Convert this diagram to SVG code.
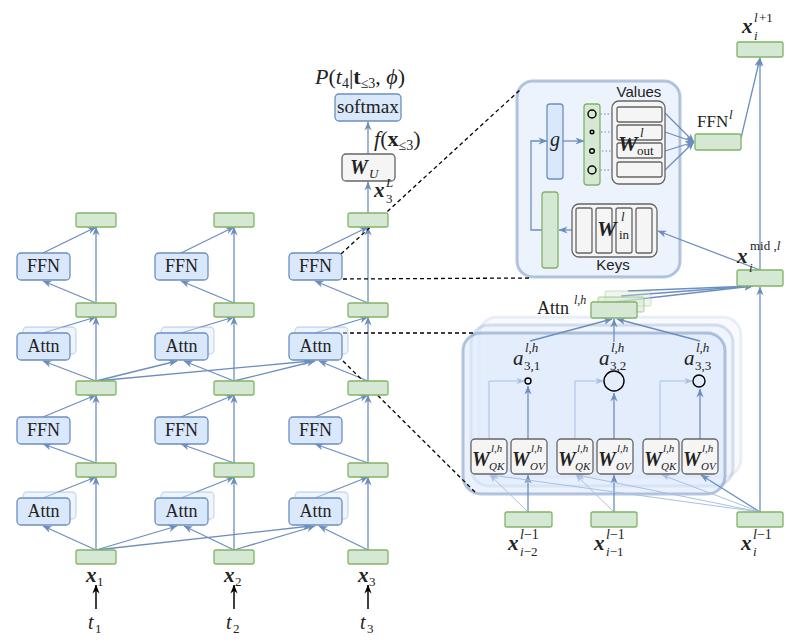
<svg xmlns="http://www.w3.org/2000/svg" width="800" height="641" viewBox="0 0 800 641">
<defs>
<marker id="a" viewBox="0 0 10 10" refX="9.5" refY="5" markerWidth="9" markerHeight="9" markerUnits="userSpaceOnUse" orient="auto"><path d="M0,1 L10,5 L0,9 L3,5 z" fill="#6c8ebf"/></marker>
<marker id="al" viewBox="0 0 10 10" refX="9.5" refY="5" markerWidth="8" markerHeight="8" markerUnits="userSpaceOnUse" orient="auto"><path d="M0,1 L10,5 L0,9 L3,5 z" fill="#a9c0e3"/></marker>
<marker id="as" viewBox="0 0 10 10" refX="9.5" refY="5" markerWidth="5" markerHeight="5" markerUnits="userSpaceOnUse" orient="auto"><path d="M0,1 L10,5 L0,9 L3,5 z" fill="#6c8ebf"/></marker>
<marker id="ak" viewBox="0 0 10 10" refX="9.5" refY="5" markerWidth="9" markerHeight="9" markerUnits="userSpaceOnUse" orient="auto"><path d="M0,1 L10,5 L0,9 L3,5 z" fill="#000"/></marker>
<style>
.g{fill:#d5e8d4;stroke:#82b366;stroke-width:1.3}
.b{fill:#dae8fc;stroke:#6c8ebf;stroke-width:1.3}
.bs{fill:#dae8fc;fill-opacity:.45;stroke:#6c8ebf;stroke-opacity:.3;stroke-width:1.3}
.gs{fill:#d5e8d4;fill-opacity:.6;stroke:#82b366;stroke-opacity:.45;stroke-width:1.3}
.w{fill:#f5f5f5;stroke:#666;stroke-width:1.3}
.e{stroke:#6c8ebf;stroke-width:1.3;fill:none;marker-end:url(#a)}
.el{stroke:#a9c0e3;stroke-width:1;fill:none;marker-end:url(#al)}
.ed{stroke:#6c8ebf;stroke-width:1.2;stroke-dasharray:1.5 2;fill:none;marker-end:url(#as)}
.ek{stroke:#000;stroke-width:1.5;fill:none;marker-end:url(#ak)}
.d{stroke:#000;stroke-width:1.3;stroke-dasharray:4 3;fill:none}
.c{fill:none;stroke:#000;stroke-width:1.4}
text{fill:#222}
.s{font-family:"Liberation Serif","DejaVu Serif",serif}
.ss{font-family:"Liberation Sans",Arial,sans-serif}
.i{font-style:italic}
.bi{font-style:italic;font-weight:bold}
.m{text-anchor:middle}
</style>
</defs>

<!-- zoom boxes (background) -->
<g id="ffn-zoom">
<rect x="517" y="81" width="163" height="196" rx="16" fill="#dae8fc" fill-opacity=".5" stroke="#6c8ebf" stroke-opacity=".5" stroke-width="3"/>
<text class="ss m" x="639" y="97" font-size="15">Values</text>
<text class="ss m" x="613" y="270" font-size="15">Keys</text>
</g>
<g id="attn-zoom">
<rect x="479" y="317" width="262" height="160" rx="18" fill="#dae8fc" fill-opacity=".2" stroke="#6c8ebf" stroke-opacity=".12" stroke-width="3"/>
<rect x="471" y="325" width="262" height="161" rx="18" fill="#dae8fc" fill-opacity=".3" stroke="#6c8ebf" stroke-opacity=".25" stroke-width="3"/>
<rect x="463" y="333" width="262" height="161" rx="18" fill="#dae8fc" fill-opacity=".55" stroke="#6c8ebf" stroke-opacity=".5" stroke-width="3"/>
</g>

<!-- connectors -->
<g id="connectors">
<!-- column 1 -->
<path class="e" d="M96,550 V477"/><path class="e" d="M96,463 V395"/><path class="e" d="M96,381 V317"/><path class="e" d="M96,303 V227"/>
<path class="e" d="M43,498 L96,477"/><path class="e" d="M96,463 L43,444"/><path class="e" d="M43,417 L96,395"/>
<path class="e" d="M43,333 L96,317"/><path class="e" d="M96,303 L43,281"/><path class="e" d="M43,253 L96,227"/>
<!-- column 2 -->
<path class="e" d="M234,550 V477"/><path class="e" d="M234,463 V395"/><path class="e" d="M234,381 V317"/><path class="e" d="M234,303 V227"/>
<path class="e" d="M181,498 L234,477"/><path class="e" d="M234,463 L181,444"/><path class="e" d="M181,417 L234,395"/>
<path class="e" d="M181,333 L234,317"/><path class="e" d="M234,303 L181,281"/><path class="e" d="M181,253 L234,227"/>
<!-- column 3 -->
<path class="e" d="M368,550 V477"/><path class="e" d="M368,463 V395"/><path class="e" d="M368,381 V317"/><path class="e" d="M368,303 V227"/>
<path class="e" d="M315,498 L368,477"/><path class="e" d="M368,463 L315,444"/><path class="e" d="M315,417 L368,395"/>
<path class="e" d="M315,333 L368,317"/><path class="e" d="M368,303 L315,281"/><path class="e" d="M315,253 L368,227"/>
<!-- causal attention, layer 1 -->
<path class="e" d="M96,550 L43,526"/><path class="e" d="M96,550 L177,526"/><path class="e" d="M96,550 L311,526"/>
<path class="e" d="M234,550 L184,526"/><path class="e" d="M234,550 L315,526"/><path class="e" d="M368,550 L319,526"/>
<!-- causal attention, layer 2 -->
<path class="e" d="M96,381 L43,361"/><path class="e" d="M96,381 L177,361"/><path class="e" d="M96,381 L311,361"/>
<path class="e" d="M234,381 L184,361"/><path class="e" d="M234,381 L315,361"/><path class="e" d="M368,381 L319,361"/>
<!-- head -->
<path class="e" d="M368,213 V182"/><path class="e" d="M368,154 V122"/>
<!-- tokens -->
<path class="ek" d="M96,609 V585"/><path class="ek" d="M234,609 V585"/><path class="ek" d="M368,609 V585"/>
<!-- dashed zoom lines -->
<path class="d" d="M341,254 L521,89"/><path class="d" d="M343,279 L531,278"/>
<path class="d" d="M343,333 L476,333"/><path class="d" d="M343,361 L476,493"/>
<!-- FFN zoom internals -->
<path class="e" d="M563,141 H584"/>
<path class="e" d="M542,230 H531 V141 H547"/>
<path class="e" d="M572,230 H559"/>
<path class="ed" d="M597,114 H617"/><path class="ed" d="M594,132 H617"/><path class="ed" d="M595,151 H617"/><path class="ed" d="M597,170 H617"/>
<path class="e" d="M665,113 L694,142"/><path class="e" d="M665,132 L694,142"/><path class="e" d="M665,151 L694,142"/><path class="e" d="M665,170 L694,142"/>
<!-- right column -->
<path class="e" d="M741,138 L760,58"/>
<path class="e" d="M760,270 V58"/>
<path class="e" d="M760,270 L658,231"/>
<path class="e" d="M760,512 V287"/>
<path class="e" d="M614,302 L753,286"/><path class="e" d="M621,296 L753,286"/><path class="e" d="M628,291 L753,286"/>
<!-- attention zoom internals -->
<path class="e" d="M530,341 L612,319"/><path class="e" d="M614,342 V319"/><path class="e" d="M700,341 L617,319"/>
<path class="e" d="M528,439 V386"/><path class="e" d="M614,439 V393"/><path class="e" d="M700,439 V389"/>
<path class="el" d="M489,439 V381 H524"/><path class="el" d="M575,439 V381 H603"/><path class="el" d="M660,439 V381 H692"/>
<path class="e" d="M528,512 V475"/><path class="e" d="M614,512 V475"/><path class="e" d="M760,512 L701,475"/>
<path class="el" d="M528,512 L490,475"/><path class="el" d="M614,512 L576,475"/>
<path class="el" d="M760,512 L491,475"/><path class="el" d="M760,512 L577,475"/><path class="el" d="M760,512 L662,475"/>
</g>

<!-- left: column 1 -->
<g id="c1-x0"><rect class="g" x="76" y="550" width="40" height="14" rx="2"/></g>
<g id="c1-attn1"><rect class="bs" x="23" y="492" width="53" height="27" rx="4"/><rect class="b" x="17" y="498" width="53" height="27" rx="4"/><text class="s m" x="43.5" y="517" font-size="18">Attn</text></g>
<g id="c1-x1"><rect class="g" x="76" y="463" width="40" height="14" rx="2"/></g>
<g id="c1-ffn1"><rect class="b" x="17" y="417" width="53" height="27" rx="4"/><text class="s m" x="43.5" y="436" font-size="18">FFN</text></g>
<g id="c1-x2"><rect class="g" x="76" y="381" width="40" height="14" rx="2"/></g>
<g id="c1-attn2"><rect class="bs" x="23" y="327" width="53" height="27" rx="4"/><rect class="b" x="17" y="333" width="53" height="27" rx="4"/><text class="s m" x="43.5" y="352" font-size="18">Attn</text></g>
<g id="c1-x3"><rect class="g" x="76" y="303" width="40" height="14" rx="2"/></g>
<g id="c1-ffn2"><rect class="b" x="17" y="253" width="53" height="27" rx="4"/><text class="s m" x="43.5" y="272" font-size="18">FFN</text></g>
<g id="c1-x4"><rect class="g" x="76" y="213" width="40" height="14" rx="2"/></g>
<g id="c1-labels"><text class="s bi" x="86" y="582" font-size="21">x</text><text class="s" x="97" y="586" font-size="13">1</text><text class="s i" x="88" y="629" font-size="20">t</text><text class="s" x="95" y="633" font-size="13">1</text></g>

<!-- column 2 -->
<g id="c2-x0"><rect class="g" x="214" y="550" width="40" height="14" rx="2"/></g>
<g id="c2-attn1"><rect class="bs" x="161" y="492" width="53" height="27" rx="4"/><rect class="b" x="155" y="498" width="53" height="27" rx="4"/><text class="s m" x="181.5" y="517" font-size="18">Attn</text></g>
<g id="c2-x1"><rect class="g" x="214" y="463" width="40" height="14" rx="2"/></g>
<g id="c2-ffn1"><rect class="b" x="155" y="417" width="53" height="27" rx="4"/><text class="s m" x="181.5" y="436" font-size="18">FFN</text></g>
<g id="c2-x2"><rect class="g" x="214" y="381" width="40" height="14" rx="2"/></g>
<g id="c2-attn2"><rect class="bs" x="161" y="327" width="53" height="27" rx="4"/><rect class="b" x="155" y="333" width="53" height="27" rx="4"/><text class="s m" x="181.5" y="352" font-size="18">Attn</text></g>
<g id="c2-x3"><rect class="g" x="214" y="303" width="40" height="14" rx="2"/></g>
<g id="c2-ffn2"><rect class="b" x="155" y="253" width="53" height="27" rx="4"/><text class="s m" x="181.5" y="272" font-size="18">FFN</text></g>
<g id="c2-x4"><rect class="g" x="214" y="213" width="40" height="14" rx="2"/></g>
<g id="c2-labels"><text class="s bi" x="224" y="582" font-size="21">x</text><text class="s" x="235" y="586" font-size="13">2</text><text class="s i" x="226" y="629" font-size="20">t</text><text class="s" x="233" y="633" font-size="13">2</text></g>

<!-- column 3 -->
<g id="c3-x0"><rect class="g" x="348" y="550" width="40" height="14" rx="2"/></g>
<g id="c3-attn1"><rect class="bs" x="295" y="492" width="53" height="27" rx="4"/><rect class="b" x="289" y="498" width="53" height="27" rx="4"/><text class="s m" x="315.5" y="517" font-size="18">Attn</text></g>
<g id="c3-x1"><rect class="g" x="348" y="463" width="40" height="14" rx="2"/></g>
<g id="c3-ffn1"><rect class="b" x="289" y="417" width="53" height="27" rx="4"/><text class="s m" x="315.5" y="436" font-size="18">FFN</text></g>
<g id="c3-x2"><rect class="g" x="348" y="381" width="40" height="14" rx="2"/></g>
<g id="c3-attn2"><rect class="bs" x="295" y="327" width="53" height="27" rx="4"/><rect class="b" x="289" y="333" width="53" height="27" rx="4"/><text class="s m" x="315.5" y="352" font-size="18">Attn</text></g>
<g id="c3-x3"><rect class="g" x="348" y="303" width="40" height="14" rx="2"/></g>
<g id="c3-ffn2"><rect class="b" x="289" y="253" width="53" height="27" rx="4"/><text class="s m" x="315.5" y="272" font-size="18">FFN</text></g>
<g id="c3-x4"><rect class="g" x="348" y="213" width="40" height="14" rx="2"/></g>
<g id="c3-labels"><text class="s bi" x="358" y="582" font-size="21">x</text><text class="s" x="369" y="586" font-size="13">3</text><text class="s i" x="360" y="629" font-size="20">t</text><text class="s" x="367" y="633" font-size="13">3</text></g>

<!-- head -->
<g id="wu"><rect class="w" x="342" y="154" width="53" height="27" rx="4"/><text class="s bi" x="350" y="174" font-size="20">W</text><text class="s i" x="369" y="178" font-size="13">U</text></g>
<g id="softmax"><rect class="b" x="335" y="94" width="66" height="27" rx="4"/><text class="s m" x="368" y="113" font-size="19" textLength="62" lengthAdjust="spacingAndGlyphs">softmax</text></g>
<g id="head-labels">
<text class="s" x="315" y="84" font-size="22"><tspan class="i">P</tspan>(<tspan class="i">t</tspan><tspan font-size="14" dy="4">4</tspan><tspan dy="-4">|</tspan><tspan font-weight="bold">t</tspan><tspan font-size="14" dy="4">≤3</tspan><tspan dy="-4">, </tspan><tspan class="i">ϕ</tspan>)</text>
<text class="s" x="374" y="146" font-size="22"><tspan class="i">f</tspan>(<tspan font-weight="bold">x</tspan><tspan font-size="14" dy="4">≤3</tspan><tspan dy="-4">)</tspan></text>
<text class="s bi" x="374" y="197" font-size="21">x</text><text class="s i" x="386" y="187" font-size="13">L</text><text class="s" x="386" y="203" font-size="13">3</text>
</g>

<!-- FFN zoom internals -->
<g id="g-gate"><rect class="b" x="547" y="104" width="16" height="75" rx="3"/><text class="s i m" x="555" y="146" font-size="20">g</text></g>
<g id="activations"><rect class="g" x="584" y="104" width="16" height="81" rx="3"/>
<circle class="c" cx="592" cy="114" r="4"/><circle class="c" cx="592" cy="132" r="1.8"/><circle class="c" cx="592" cy="151" r="2.3"/><circle class="c" cx="592" cy="170" r="4"/></g>
<g id="w-out"><rect class="w" x="612" y="101" width="53" height="83" rx="7"/>
<rect class="w" x="617" y="107" width="45" height="15" rx="2"/><rect class="w" x="617" y="125" width="45" height="15" rx="2"/><rect class="w" x="617" y="143" width="45" height="15" rx="2"/><rect class="w" x="617" y="162" width="45" height="15" rx="2"/>
<text class="s bi" x="618" y="151" font-size="22">W</text><text class="s i" x="640" y="137" font-size="13">l</text><text class="s" x="637" y="155" font-size="13">out</text></g>
<g id="key-act"><rect class="g" x="542" y="192" width="16" height="76" rx="3"/></g>
<g id="w-in"><rect class="w" x="572" y="204" width="85" height="53" rx="7"/>
<rect class="w" x="576" y="208" width="16" height="45" rx="2"/><rect class="w" x="596" y="208" width="16" height="45" rx="2"/><rect class="w" x="616" y="208" width="16" height="45" rx="2"/><rect class="w" x="636" y="208" width="16" height="45" rx="2"/>
<text class="s bi" x="597" y="236" font-size="22">W</text><text class="s i" x="621" y="221" font-size="13">l</text><text class="s" x="619" y="239" font-size="13">in</text></g>

<!-- right column -->
<g id="x-next"><rect class="g" x="737" y="42" width="46" height="15" rx="2"/><text class="s bi" x="742" y="33" font-size="21">x</text><text class="s i" x="754" y="22" font-size="13">l</text><text class="s" x="759" y="22" font-size="13">+1</text><text class="s i" x="754" y="40" font-size="13">i</text></g>
<g id="ffn-l"><rect class="g" x="695" y="134" width="46" height="16" rx="2"/><text class="s" x="697" y="127" font-size="17">FFN</text><text class="s i" x="729" y="119" font-size="13">l</text></g>
<g id="x-mid"><rect class="g" x="737" y="270" width="46" height="16" rx="2"/><text class="s bi" x="737" y="263" font-size="21">x</text><text class="s i" x="749" y="272" font-size="13">i</text><text class="s" x="750" y="250" font-size="13">mid ,<tspan class="i">l</tspan></text></g>
<g id="attn-out"><rect class="gs" x="605" y="291" width="46" height="15" rx="2" opacity=".6"/><rect class="gs" x="598" y="297" width="46" height="15" rx="2"/><rect class="g" x="591" y="302" width="46" height="16" rx="2"/>
<text class="s" x="537" y="314" font-size="18">Attn</text><text class="s i" x="574" y="304" font-size="12">l,h</text></g>

<!-- attention heads -->
<g id="a31"><circle class="c" cx="528" cy="381" r="3"/><text class="s i" x="513" y="365" font-size="21">a</text><text class="s i" x="525" y="352" font-size="13">l,h</text><text class="s" x="524" y="370" font-size="13">3,1</text></g>
<g id="a32"><circle class="c" cx="614" cy="381" r="10"/><text class="s i" x="599" y="365" font-size="21">a</text><text class="s i" x="611" y="352" font-size="13">l,h</text><text class="s" x="610" y="370" font-size="13">3,2</text></g>
<g id="a33"><circle class="c" cx="699" cy="381" r="6"/><text class="s i" x="684" y="365" font-size="21">a</text><text class="s i" x="696" y="352" font-size="13">l,h</text><text class="s" x="695" y="370" font-size="13">3,3</text></g>
<g id="qk1"><rect class="w" x="471" y="439" width="36" height="35" rx="4"/><text class="s bi" x="472" y="466" font-size="20">W</text><text class="s i" x="491" y="452" font-size="11">l,h</text><text class="s i" x="489" y="470" font-size="11">QK</text></g>
<g id="ov1"><rect class="w" x="511" y="439" width="36" height="35" rx="4"/><text class="s bi" x="512" y="466" font-size="20">W</text><text class="s i" x="531" y="452" font-size="11">l,h</text><text class="s i" x="530" y="470" font-size="11">OV</text></g>
<g id="qk2"><rect class="w" x="557" y="439" width="36" height="35" rx="4"/><text class="s bi" x="558" y="466" font-size="20">W</text><text class="s i" x="577" y="452" font-size="11">l,h</text><text class="s i" x="575" y="470" font-size="11">QK</text></g>
<g id="ov2"><rect class="w" x="597" y="439" width="36" height="35" rx="4"/><text class="s bi" x="598" y="466" font-size="20">W</text><text class="s i" x="617" y="452" font-size="11">l,h</text><text class="s i" x="616" y="470" font-size="11">OV</text></g>
<g id="qk3"><rect class="w" x="643" y="439" width="36" height="35" rx="4"/><text class="s bi" x="644" y="466" font-size="20">W</text><text class="s i" x="663" y="452" font-size="11">l,h</text><text class="s i" x="661" y="470" font-size="11">QK</text></g>
<g id="ov3"><rect class="w" x="682" y="439" width="36" height="35" rx="4"/><text class="s bi" x="683" y="466" font-size="20">W</text><text class="s i" x="702" y="452" font-size="11">l,h</text><text class="s i" x="701" y="470" font-size="11">OV</text></g>

<!-- inputs -->
<g id="x-im2"><rect class="g" x="505" y="512" width="47" height="15" rx="2"/><text class="s bi" x="508" y="550" font-size="21">x</text><text class="s" x="520" y="539" font-size="14"><tspan class="i">l</tspan>−1</text><text class="s" x="520" y="556" font-size="13"><tspan class="i">i</tspan>−2</text></g>
<g id="x-im1"><rect class="g" x="591" y="512" width="46" height="15" rx="2"/><text class="s bi" x="594" y="550" font-size="21">x</text><text class="s" x="606" y="539" font-size="14"><tspan class="i">l</tspan>−1</text><text class="s" x="606" y="556" font-size="13"><tspan class="i">i</tspan>−1</text></g>
<g id="x-i"><rect class="g" x="737" y="512" width="46" height="15" rx="2"/><text class="s bi" x="741" y="550" font-size="21">x</text><text class="s" x="753" y="539" font-size="14"><tspan class="i">l</tspan>−1</text><text class="s i" x="753" y="556" font-size="13">i</text></g>
</svg>
